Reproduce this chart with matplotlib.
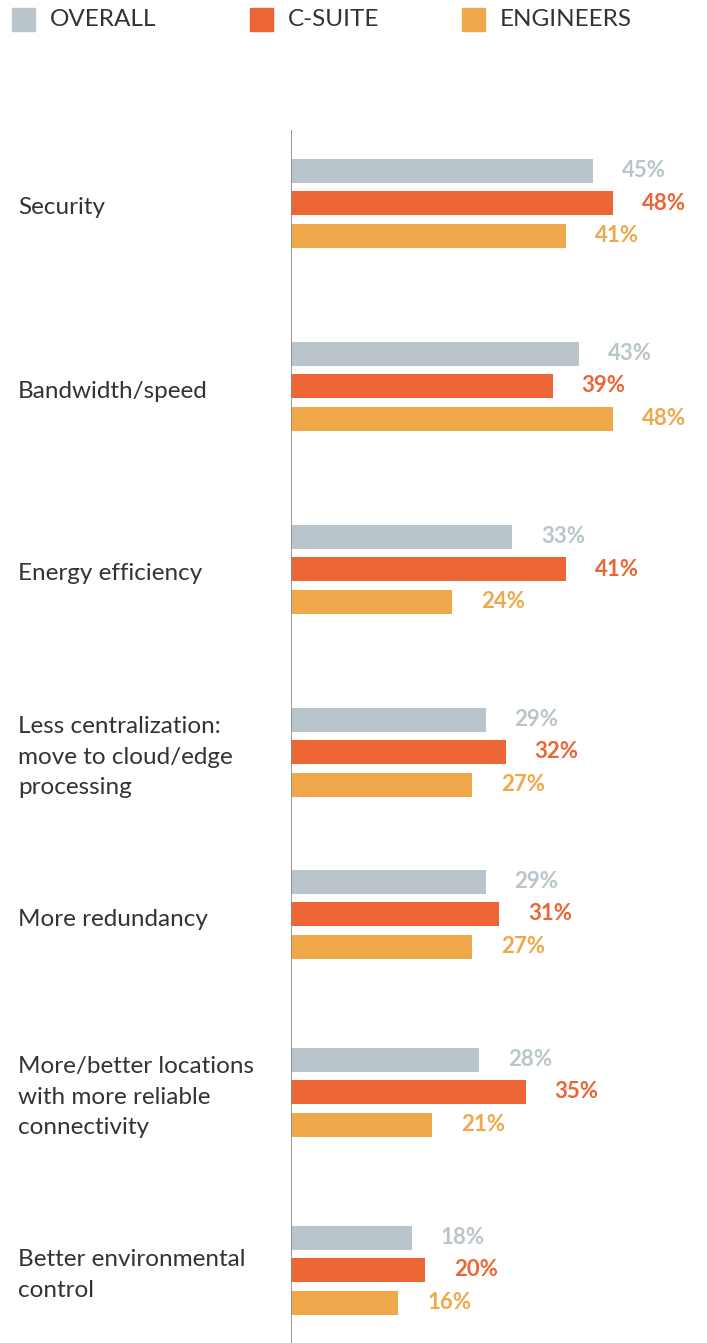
import matplotlib.pyplot as plt
from matplotlib.patches import Rectangle

categories = ["Security", "Bandwidth/speed", "Energy efficiency",
              "Less centralization:\nmove to cloud/edge\nprocessing",
              "More redundancy",
              "More/better locations\nwith more reliable\nconnectivity",
              "Better environmental\ncontrol"]
overall = [45, 43, 33, 29, 29, 28, 18]
csuite = [48, 39, 41, 32, 31, 35, 20]
engineers = [41, 48, 24, 27, 27, 21, 16]
series_names = ["OVERALL", "C-SUITE", "ENGINEERS"]

colors = ["#B9C5CB", "#EC6535", "#EFA84A"]
# vertical centre of each group (pixels from the top of the image)
group_y = [203, 386, 569, 752, 914, 1092, 1270]

W, H = 707, 1343
fig = plt.figure(figsize=(W / 100, H / 100), dpi=100)
plt.rcParams['font.family'] = ['Lato', 'DejaVu Sans']

x0, top = 291, 130
px_per_pct = 6.708
ax = fig.add_axes([x0 / W, 0, (W - x0) / W, (H - top) / H])
ax.set_xlim(0, (W - x0) / px_per_pct)
ax.set_ylim(H, top)
ax.axis("off")
ax.axvline(0, color="#8a8a8a", lw=1.2)

offsets = [-32.5, 0, 32.5]
for i, vals in enumerate([overall, csuite, engineers]):
    ys = [g + offsets[i] for g in group_y]
    ax.barh(ys, vals, height=24, color=colors[i])
    for y, v in zip(ys, vals):
        ax.text(v + 4.3, y, f"{v}%", color=colors[i], fontsize=16,
                fontweight="bold", va="center", ha="left")

for g, label in zip(group_y, categories):
    fig.text(18 / W, 1 - (g + 5) / H, label, fontsize=17.5, color="#333333",
             va="center", ha="left", linespacing=1.55)

# legend
leg_x = [12, 250, 462]
for lx, name, c in zip(leg_x, series_names, colors):
    fig.patches.append(Rectangle((lx / W, 1 - 31 / H), 23 / W, 23 / H,
                                 transform=fig.transFigure, color=c))
    fig.text((lx + 38) / W, 1 - 20 / H, name, fontsize=17.5, color="#333333",
             va="center", ha="left")

fig.savefig("out.png", dpi=100)
